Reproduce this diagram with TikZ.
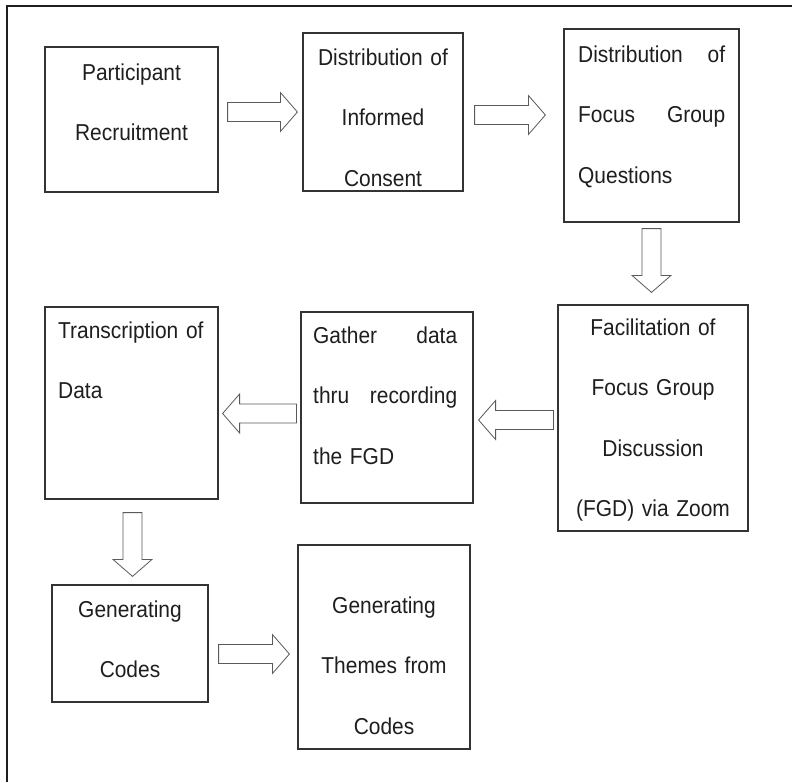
\documentclass[tikz,border=0pt]{standalone}
\usepackage{fontspec}
\setmainfont{Liberation Sans}[FakeStretch=0.91]
\usetikzlibrary{calc}
\definecolor{boxline}{HTML}{333333}
\definecolor{arrowline}{HTML}{5A5A5A}
\definecolor{textcol}{HTML}{1E1E1E}

\newcommand{\blockarrow}[2]{%
  \coordinate (#1h) at ($(#2)!17pt!(#1)$);
  \draw[blockarrow] ($(#1)!9.5pt!90:(#2)$) -- ($(#1h)!9.5pt!90:(#2)$)
    -- ($(#1h)!19.5pt!90:(#2)$) -- (#2) -- ($(#1h)!19.5pt!-90:(#2)$)
    -- ($(#1h)!9.5pt!-90:(#2)$) -- ($(#1)!9.5pt!-90:(#2)$) -- cycle;
}

\begin{document}
\begin{tikzpicture}[x=1pt, y=-1pt,
    box/.style={draw=boxline, line width=1.2pt, inner sep=0pt},
    blockarrow/.style={draw=arrowline, line width=0.8pt, fill=white, line join=miter},
    boxtext/.style={inner sep=0pt, text=textcol, font=\fontsize{23}{60.5}\selectfont},
    midtext/.style={boxtext, anchor=base, text width=170pt, align=center},
    lefttext/.style={boxtext, anchor=base west, text width=150pt, align=left}]
  \useasboundingbox (0,0) rectangle (792,782);
  \draw[line width=1.5pt, draw=textcol] (792,6) -- (7,6) -- (7,782);

  \node[box, minimum width=173pt, minimum height=145pt] (recruit) at (131.5,119.5) {};
  \node[box, minimum width=160pt, minimum height=158pt] (consent) at (383,112) {};
  \node[box, minimum width=175pt, minimum height=193pt] (questions) at (651.5,125.5) {};
  \node[box, minimum width=190pt, minimum height=226pt] (fgd) at (653,418) {};
  \node[box, minimum width=172pt, minimum height=191pt] (gather) at (387,407.5) {};
  \node[box, minimum width=173pt, minimum height=192pt] (transcribe) at (131.5,403) {};
  \node[box, minimum width=156pt, minimum height=117pt] (codes) at (130,643.5) {};
  \node[box, minimum width=172pt, minimum height=204pt] (themes) at (384,647) {};

  \node[midtext] (recruit-t) at (131.5,80) {Participant\\Recruitment};
  \node[midtext] (consent-t) at (383,65) {Distribution of\\Informed\\Consent};
  \node[lefttext, text width=147pt] (questions-t) at (578,62) {Distribution\hfill of\\Focus\hfill Group\\Questions};
  \node[midtext] (fgd-t) at (653,335) {Facilitation of\\Focus Group\\Discussion\\(FGD) via Zoom};
  \node[lefttext, text width=144pt] (gather-t) at (313,343) {Gather\hfill data\\thru\hfill recording\\the FGD};
  \node[lefttext] (transcribe-t) at (58,338) {Transcription of\\Data};
  \node[midtext] (codes-t) at (130,617) {Generating\\Codes};
  \node[midtext] (themes-t) at (384,613) {Generating\\Themes from\\Codes};

  \coordinate (a1s) at ($(recruit.east |- consent.west)+(9,0)$);
  \coordinate (a1e) at ($(consent.west)+(-5,0)$);
  \coordinate (a2s) at ($(consent.east)+(11,3)$);
  \coordinate (a2e) at ($(questions.west |- consent.east)+(-18,3)$);
  \coordinate (a3s) at ($(questions.south)+(0,6)$);
  \coordinate (a3e) at ($(questions.south |- fgd.north)+(0,-12)$);
  \coordinate (a4s) at ($(fgd.west)+(-4,2)$);
  \coordinate (a4e) at ($(gather.east |- fgd.west)+(5,2)$);
  \coordinate (a5s) at ($(gather.west)+(-4,6)$);
  \coordinate (a5e) at ($(transcribe.east |- gather.west)+(4,6)$);
  \coordinate (a6s) at ($(transcribe.south)+(1,13)$);
  \coordinate (a6e) at ($(transcribe.south |- codes.north)+(1,-8)$);
  \coordinate (a7s) at ($(codes.east)+(10,10.5)$);
  \coordinate (a7e) at ($(themes.west |- codes.east)+(-8,10.5)$);

  \blockarrow{a1s}{a1e}
  \blockarrow{a2s}{a2e}
  \blockarrow{a3s}{a3e}
  \blockarrow{a4s}{a4e}
  \blockarrow{a5s}{a5e}
  \blockarrow{a6s}{a6e}
  \blockarrow{a7s}{a7e}
\end{tikzpicture}
\end{document}
